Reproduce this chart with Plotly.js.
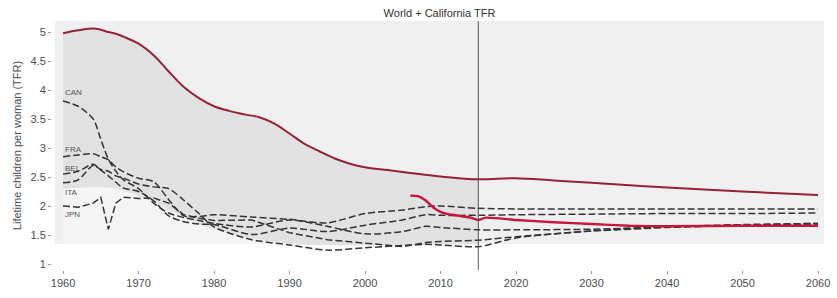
<!DOCTYPE html>
<html>
<head>
<meta charset="utf-8">
<script src="https://cdn.plot.ly/plotly-3.0.1.min.js"></script>
<style>html,body{margin:0;padding:0;background:#fff;}#chart{width:837px;height:298px;}</style>
</head>
<body>
<div id="chart"></div>
<script>
// World TFR (history + projection)
var worldYears = [1960,1962,1964,1965,1966,1967,1968,1970,1972,1974,1976,1978,1980,1982,1984,1986,1988,1990,1992,1994,1996,1998,2000,2003,2006,2010,2015,2020,2025,2030,2040,2050,2060];
var worldTFR   = [4.98,5.03,5.06,5.04,5.00,4.97,4.92,4.80,4.60,4.32,4.05,3.86,3.72,3.64,3.58,3.53,3.42,3.25,3.07,2.94,2.82,2.73,2.67,2.62,2.57,2.51,2.46,2.48,2.44,2.40,2.32,2.25,2.19];

// California TFR
var caYears = [2006,2007,2008,2009,2010,2011,2012,2013,2014,2015,2016,2020,2025,2030,2035,2040,2050,2060];
var caTFR   = [2.18,2.17,2.10,1.98,1.90,1.86,1.84,1.82,1.80,1.76,1.80,1.76,1.72,1.69,1.66,1.65,1.66,1.66];

// Countries
var countryYears = [1960,1962,1964,1965,1966,1967,1968,1970,1972,1974,1976,1978,1980,1985,1990,1995,2000,2005,2008,2010,2015,2020,2030,2040,2050,2060];
var countryNames = ["CAN","FRA","BEL","ITA","JPN"];
var canTFR = [3.81,3.72,3.50,3.15,2.81,2.60,2.45,2.30,2.05,1.88,1.80,1.75,1.70,1.64,1.76,1.65,1.52,1.56,1.65,1.63,1.59,1.59,1.60,1.64,1.67,1.70];
var fraTFR = [2.85,2.88,2.90,2.85,2.80,2.67,2.59,2.48,2.42,2.11,1.83,1.82,1.85,1.81,1.77,1.71,1.87,1.93,1.99,2.00,1.96,1.95,1.95,1.95,1.95,1.95];
var belTFR = [2.55,2.60,2.72,2.62,2.52,2.41,2.31,2.25,2.09,1.83,1.73,1.69,1.68,1.51,1.62,1.56,1.67,1.76,1.85,1.84,1.84,1.85,1.86,1.87,1.87,1.88];
var itaTFR = [2.40,2.45,2.70,2.63,2.60,2.52,2.48,2.38,2.33,2.30,2.10,1.87,1.64,1.42,1.33,1.24,1.28,1.32,1.34,1.33,1.30,1.45,1.57,1.64,1.68,1.70];
var jpnTFR = [2.00,1.98,2.05,2.15,1.60,2.05,2.15,2.13,2.14,2.05,1.85,1.79,1.75,1.76,1.54,1.42,1.36,1.30,1.37,1.39,1.41,1.47,1.57,1.63,1.67,1.69];
var labelY = [3.95,2.97,2.64,2.24,1.86];

// Lower edge of the historical shaded band
var bandYears = [1960,1963,1965,1967,1969,1971,1973,1975,1977,1980,1985,1990,2015];
var bandLow   = [2.30,2.32,2.33,2.30,2.22,2.12,2.00,1.88,1.75,1.60,1.45,1.35,1.345];

var cutYear = 2015;
var bottomVal = 1.345, topVal = 5.19;

var histYears = [], histVals = [];
for (var i = 0; i < worldYears.length; i++) {
  if (worldYears[i] <= cutYear) { histYears.push(worldYears[i]); histVals.push(worldTFR[i]); }
}
var bottomLine = bandYears.map(function(){ return bottomVal; });

var traces = [];
traces.push({x: bandYears, y: bottomLine, mode: 'lines', line: {width: 0, color: 'rgba(0,0,0,0)'}, hoverinfo: 'skip', showlegend: false});
traces.push({x: bandYears, y: bandLow, mode: 'lines', fill: 'tonexty', fillcolor: '#f5f5f5', line: {width: 0, color: 'rgba(0,0,0,0)', shape: 'spline'}, hoverinfo: 'skip', showlegend: false});
traces.push({x: histYears, y: histVals, mode: 'lines', fill: 'tonexty', fillcolor: '#e2e2e2', line: {width: 0, color: 'rgba(0,0,0,0)', shape: 'spline'}, hoverinfo: 'skip', showlegend: false});

var countrySeries = [canTFR, fraTFR, belTFR, itaTFR, jpnTFR];
countrySeries.forEach(function(vals, k) {
  traces.push({x: countryYears, y: vals, name: countryNames[k], mode: 'lines',
    line: {color: '#353535', width: 1.5, dash: '7px,3px', shape: countryNames[k] === 'JPN' ? 'linear' : 'spline', smoothing: 0.8}, showlegend: false});
});

traces.push({x: worldYears, y: worldTFR, name: 'World', mode: 'lines', line: {color: '#962235', width: 2, shape: 'spline', smoothing: 1}, showlegend: false});
traces.push({x: caYears, y: caTFR, name: 'California', mode: 'lines', line: {color: '#c8153a', width: 2.4, shape: 'spline', smoothing: 0.6}, showlegend: false});

var annotations = countryNames.map(function(n, k) {
  return {x: 1960, y: labelY[k], xref: 'x', yref: 'y', text: n, showarrow: false, xanchor: 'left', yanchor: 'middle',
    font: {family: 'Liberation Sans, Arial, sans-serif', size: 8, color: '#555'}};
});

var layout = {
  width: 837, height: 298,
  margin: {l: 52, r: 10, t: 21, b: 28},
  paper_bgcolor: '#ffffff', plot_bgcolor: '#ffffff',
  font: {family: 'Liberation Sans, Arial, sans-serif', size: 11, color: '#4d4d4d'},
  title: {text: 'World + California TFR', x: 0.5, xref: 'paper', y: 0.955, yref: 'container', yanchor: 'middle',
    font: {family: 'Liberation Sans, Arial, sans-serif', size: 11, color: '#333'}},
  xaxis: {range: [1958.54, 2061.19], tickvals: [1960,1970,1980,1990,2000,2010,2020,2030,2040,2050,2060],
    ticks: 'outside', ticklen: 3, tickcolor: '#999', tickwidth: 1, showgrid: false, zeroline: false, showline: false,
    tickfont: {size: 11, color: '#4d4d4d'}, fixedrange: true},
  yaxis: {range: [0.897, 5.19], tickvals: [1,1.5,2,2.5,3,3.5,4,4.5,5], ticktext: ['1','1.5','2','2.5','3','3.5','4','4.5','5'],
    ticks: 'outside', ticklen: 3, tickcolor: '#999', tickwidth: 1, showgrid: false, zeroline: false, showline: false,
    tickfont: {size: 11, color: '#4d4d4d'},
    title: {text: 'Lifetime children per woman (TFR)', standoff: 6, font: {size: 11, color: '#4d4d4d'}}, fixedrange: true},
  shapes: [
    {type: 'rect', xref: 'x', yref: 'y', x0: 1958.9, x1: 2060.8, y0: bottomVal, y1: topVal, fillcolor: '#f0f0f0', line: {width: 0}, layer: 'below'},
    {type: 'line', xref: 'x', yref: 'paper', x0: cutYear, x1: cutYear, y0: 0, y1: 1, line: {color: '#555', width: 1}}
  ],
  annotations: annotations,
  showlegend: false
};

Plotly.newPlot('chart', traces, layout, {displayModeBar: false, staticPlot: true});
</script>
</body>
</html>
